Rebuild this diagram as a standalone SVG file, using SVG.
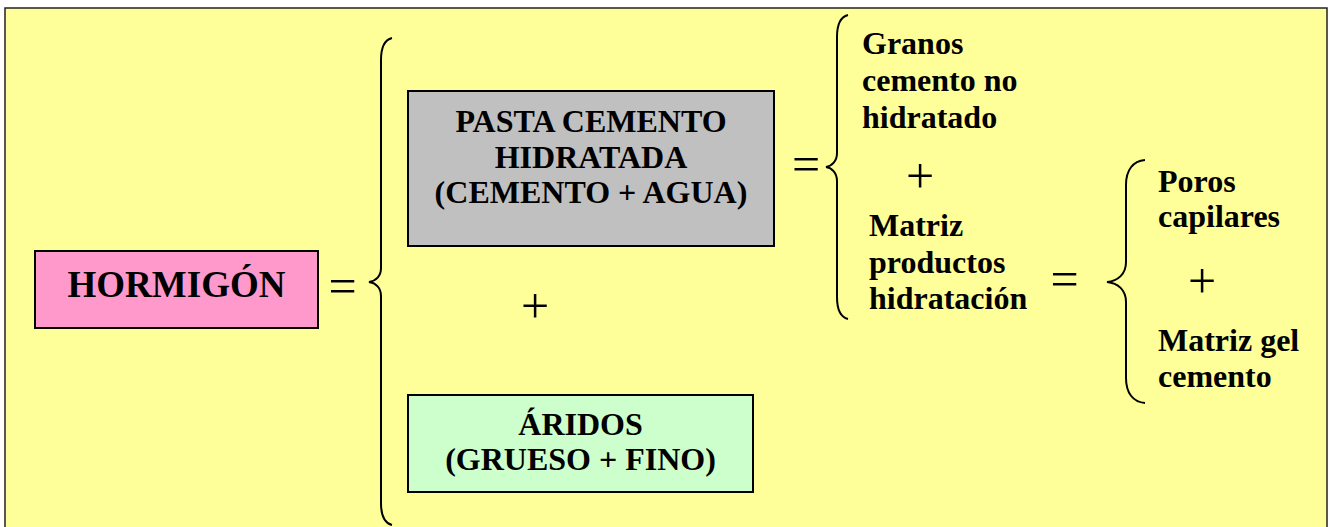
<svg xmlns="http://www.w3.org/2000/svg" width="1334" height="527" viewBox="0 0 1334 527">
  <style>
    .box { stroke: #000; stroke-width: 2; }
    .lbl { font-family: "Liberation Serif", "Times New Roman", serif; font-weight: bold; font-size: 32px; fill: #000; }
    .mid { text-anchor: middle; }
    .op { font-family: "Liberation Serif", "Times New Roman", serif; font-size: 50px; fill: #000; text-anchor: middle; }
    .brace { fill: none; stroke: #000; stroke-width: 2; }
  </style>
  <rect id="background" x="5" y="8" width="1322" height="540" fill="#FFFF99" stroke="#222" stroke-width="1.5"/>

  <g id="connectors">
    <path class="brace" d="M392,38 C384,40 381,48 381,60 L381,268 C381,276 376,281 369,282 C376,283 381,288 381,296 L381,503 C381,515 384,523 392,525"/>
    <path class="brace" d="M848,15 C840,17 837,25 837,37 L837,153 C837,161 832,166 826,167 C832,168 837,173 837,181 L837,297 C837,309 840,317 848,319"/>
    <path class="brace" d="M1145,160 C1133,161 1126,170 1126,185 L1126,262 C1126,274 1118,281 1107,282 C1118,283 1126,290 1126,302 L1126,378 C1126,393 1133,402 1145,403"/>
    <g id="operators">
      <text class="op" x="342.5" y="303">=</text>
      <text class="op" x="535" y="323">+</text>
      <text class="op" x="806" y="181">=</text>
      <text class="op" x="920" y="193">+</text>
      <text class="op" x="1064.5" y="296">=</text>
      <text class="op" x="1202" y="298">+</text>
    </g>
  </g>

  <g id="hormigon">
    <rect class="box" x="35" y="251" width="283" height="77" fill="#FF99CC"/>
    <text class="lbl mid" x="176.5" y="297" style="font-size:37px">HORMIGÓN</text>
  </g>

  <g id="pasta">
    <rect class="box" x="408" y="91" width="366" height="155" fill="#C0C0C0"/>
    <text class="lbl mid" x="591" y="132">PASTA CEMENTO</text>
    <text class="lbl mid" x="591" y="168">HIDRATADA</text>
    <text class="lbl mid" x="591" y="203">(CEMENTO + AGUA)</text>
  </g>

  <g id="aridos">
    <rect class="box" x="408" y="395" width="345" height="97" fill="#CCFFCC"/>
    <text class="lbl mid" x="580.5" y="435">ÁRIDOS</text>
    <text class="lbl mid" x="580.5" y="470">(GRUESO + FINO)</text>
  </g>

  <g id="granos">
    <text class="lbl" x="862" y="54">Granos</text>
    <text class="lbl" x="862" y="91">cemento no</text>
    <text class="lbl" x="862" y="128">hidratado</text>
  </g>

  <g id="matriz-productos">
    <text class="lbl" x="869" y="236">Matriz</text>
    <text class="lbl" x="869" y="273">productos</text>
    <text class="lbl" x="869" y="309">hidratación</text>
  </g>

  <g id="poros">
    <text class="lbl" x="1158" y="192">Poros</text>
    <text class="lbl" x="1158" y="227">capilares</text>
  </g>

  <g id="matriz-gel">
    <text class="lbl" x="1158" y="351">Matriz gel</text>
    <text class="lbl" x="1158" y="387">cemento</text>
  </g>
</svg>
